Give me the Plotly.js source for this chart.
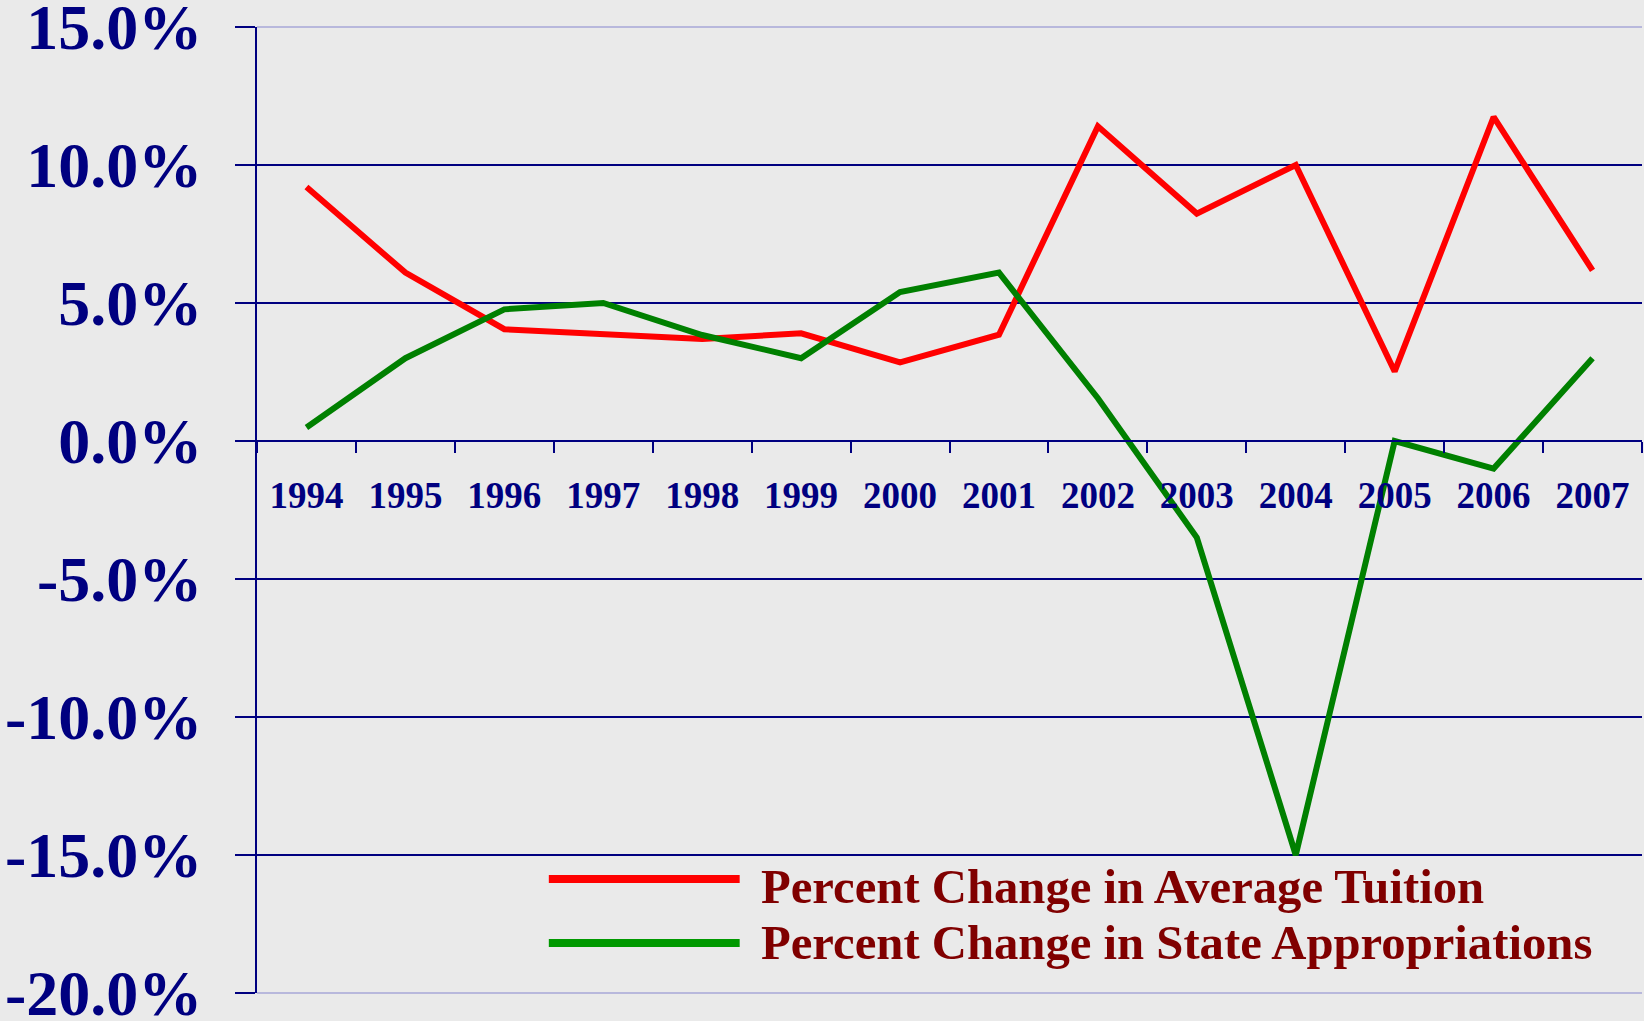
<!DOCTYPE html>
<html>
<head>
<meta charset="utf-8">
<script src="https://cdn.plot.ly/plotly-3.0.1.min.js"></script>
<style>
  html, body { margin: 0; padding: 0; background: #eaeaea; }
  #chart { width: 1644px; height: 1021px; }
</style>
</head>
<body>
<div id="chart"></div>
<script>
// ---- data ----
const years = ["1994","1995","1996","1997","1998","1999","2000","2001","2002","2003","2004","2005","2006","2007"];
const tuitionChange = [9.2, 6.1, 4.05, 3.85, 3.7, 3.9, 2.85, 3.85, 11.4, 8.24, 10.0, 2.52, 11.74, 6.18];
const appropriationsChange = [0.49, 3.0, 4.77, 5.0, 3.84, 3.0, 5.4, 6.1, 1.55, -3.5, -15.0, 0.0, -1.0, 3.0];
const seriesNames = ["Percent Change in Average Tuition", "Percent Change in State Appropriations"];
const yTickValues = [-20, -15, -10, -5, 0, 5, 10, 15];
const yTickLabels = ["-20.0%", "-15.0%", "-10.0%", "-5.0%", "0.0%", "5.0%", "10.0%", "15.0%"];

const NAVY = "#000080";
const FONT = "'Liberation Serif', 'Times New Roman', Times, serif";

const traces = [
  { x: years, y: tuitionChange, name: seriesNames[0], type: "scatter", mode: "lines",
    line: { color: "#ff0000", width: 6 }, showlegend: false, hoverinfo: "x+y" },
  { x: years, y: appropriationsChange, name: seriesNames[1], type: "scatter", mode: "lines",
    line: { color: "#008000", width: 6 }, showlegend: false, hoverinfo: "x+y" }
];

const layout = {
  width: 1644, height: 1021,
  margin: { l: 257, r: 2, t: 27, b: 28, pad: 0 },
  paper_bgcolor: "#eaeaea", plot_bgcolor: "#eaeaea",
  showlegend: false,
  xaxis: {
    type: "category", range: [-0.5, 13.5], tickson: "boundaries",
    anchor: "free", position: 4 / 7,
    showline: true, linecolor: NAVY, linewidth: 2,
    ticks: "outside", ticklen: 11, tickwidth: 2, tickcolor: NAVY,
    showgrid: false, zeroline: false,
    ticklabelstandoff: 22,
    tickfont: { family: FONT, size: 37, color: NAVY, weight: "bold" }
  },
  yaxis: {
    range: [-20, 15], tickmode: "array", tickvals: yTickValues, ticktext: yTickLabels,
    showline: true, linecolor: NAVY, linewidth: 2,
    ticks: "outside", ticklen: 20, tickwidth: 2, tickcolor: NAVY,
    showgrid: true, gridcolor: NAVY, gridwidth: 2, zeroline: false,
    ticklabelstandoff: 20, ticklabeloverflow: "allow",
    tickfont: { family: FONT, size: 64, color: NAVY, weight: "bold" }
  },
  shapes: [
    { type: "line", xref: "paper", yref: "paper", x0: 0, x1: 1, y0: 1, y1: 1,
      line: { color: "#b8b8dc", width: 2 }, layer: "above" },
    { type: "line", xref: "paper", yref: "paper", x0: 0, x1: 1, y0: 0, y1: 0,
      line: { color: "#b8b8dc", width: 2 }, layer: "above" },
    { type: "line", xref: "paper", yref: "paper", x0: 0.2107, x1: 0.3485, y0: 0.118, y1: 0.118,
      line: { color: "#ff0000", width: 8 } },
    { type: "line", xref: "paper", yref: "paper", x0: 0.2107, x1: 0.3485, y0: 0.0518, y1: 0.0518,
      line: { color: "#009900", width: 8 } }
  ],
  annotations: [
    { xref: "paper", yref: "paper", x: 0.3622, y: 0.1097, xanchor: "left", yanchor: "middle",
      text: seriesNames[0], showarrow: false,
      font: { family: FONT, size: 48.7, color: "#800000", weight: "bold" } },
    { xref: "paper", yref: "paper", x: 0.3622, y: 0.0518, xanchor: "left", yanchor: "middle",
      text: seriesNames[1], showarrow: false,
      font: { family: FONT, size: 48.7, color: "#800000", weight: "bold" } }
  ]
};

Plotly.newPlot("chart", traces, layout, { displayModeBar: false, staticPlot: true });
</script>
</body>
</html>
